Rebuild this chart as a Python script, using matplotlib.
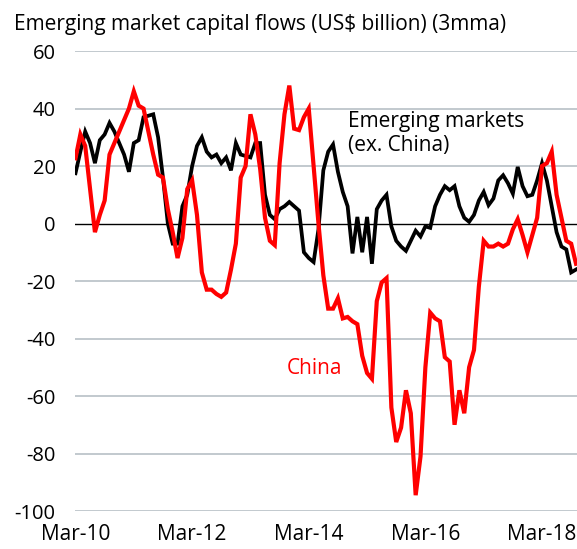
import matplotlib
matplotlib.use("Agg")
import matplotlib.pyplot as plt
import numpy as np

plt.rcParams['font.family'] = ['Open Sans', 'DejaVu Sans']

# Monthly, Mar-10 .. Oct-18 (3mma, US$ billion)
em_ex_china = [17.5, 25, 32, 28, 21, 29, 31, 35, 32, 28, 24, 18, 28, 29, 37, 37.5, 38, 30, 16, 0,
               -7, -7, 6, 10, 20, 27, 30, 25, 23, 24, 21, 23, 18.5, 28, 24, 23.5, 23, 28, 28, 10,
               3, 1.5, 5, 6, 7.5, 6, 4.5, -10, -12, -13.4, -2, 18.5, 25, 27.5, 18, 11, 6, -10.4, 2.3, -10,
               2.3, -14, 5, 8, 10, -1, -6, -8, -9.5, -6, -2.5, -4.5, -1, -1.5, 6, 10, 13, 11.6, 13, 6,
               2, 0.6, 3, 8, 11, 6.4, 8.7, 15, 16.8, 14, 10.4, 19.7, 13, 9.5, 10, 15, 21, 15, 6, -3,
               -8, -9, -17, -16]
china = [22.7, 31, 27, 12, -3, 3, 8, 24, 28, 32, 36, 40, 46, 41, 40, 32, 24, 17, 16, 5,
         -3, -12, -5, 12, 15, 3, -17, -23, -23, -24.5, -25.5, -24, -16, -7, 16, 20, 38, 31, 19, 2,
         -6, -7.5, 21, 38, 48, 33, 32.5, 37, 40, 20, 0, -18, -29.6, -29.6, -26, -33, -32.5, -34, -35, -46,
         -52, -54, -27, -20.5, -19, -64, -76, -71, -58, -66, -94.5, -81, -50, -31, -33, -34, -46.5, -48, -70, -58,
         -66, -50, -44, -22, -6, -8, -8, -7, -8, -7, -2, 1.5, -4, -10, -4, 2, 20, 21, 25, 10,
         2, -6, -7, -14]
tick_pos = [0, 24, 48, 72, 96]
tick_labels = ["Mar-10", "Mar-12", "Mar-14", "Mar-16", "Mar-18"]
y_ticks = [60, 40, 20, 0, -20, -40, -60, -80, -100]

fig = plt.figure(figsize=(5.77, 5.49), dpi=100)
ax = fig.add_axes([0.130, 0.0692, 0.870, 0.8378])

x = np.arange(len(em_ex_china))
for yt in y_ticks:
    if yt == 0:
        continue
    ax.axhline(yt, color="#b8c0c6", lw=1.2, zorder=1)
ax.axhline(0, color="black", lw=1.0, zorder=2)

ax.plot(x, em_ex_china, color="black", lw=2.7, zorder=3, solid_joinstyle="miter")
ax.plot(np.arange(len(china)), china, color="#ff0000", lw=3.0, zorder=4, solid_joinstyle="miter")

ax.set_ylim(-100, 60)
ax.set_xlim(-0.1, 103.2)
ax.set_yticks(y_ticks)
ax.set_yticklabels([str(v) for v in y_ticks], fontsize=14.5)
ax.set_xticks(tick_pos)
ax.set_xticklabels(tick_labels, fontsize=15)
ax.tick_params(axis="both", length=0)
ax.tick_params(axis="y", pad=14)
ax.tick_params(axis="x", pad=9)
for s in ax.spines.values():
    s.set_visible(False)

fig.text(0.024, 0.955, "Emerging market capital flows (US$ billion) (3mma)", fontsize=15,
         ha="left", va="center")
ax.text(56.0, 31.4, "Emerging markets\n(ex. China)", fontsize=15, color="black",
        ha="left", va="center", linespacing=1.2)
ax.text(43.5, -50.5, "China", fontsize=15, color="#ff0000", ha="left", va="center")

fig.savefig("out.png", dpi=100)
